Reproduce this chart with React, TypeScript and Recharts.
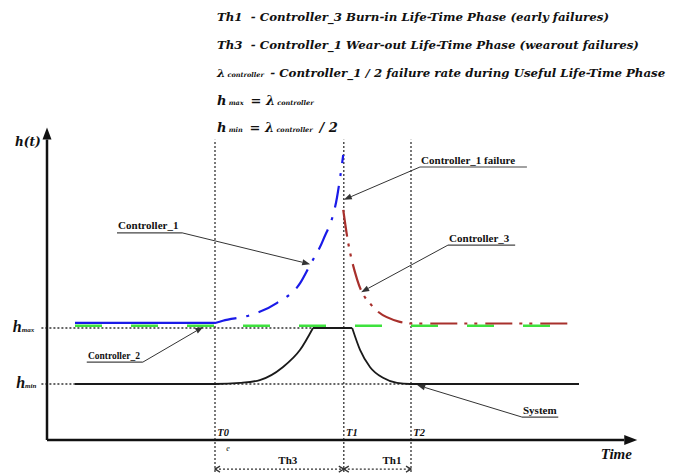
import React from 'react';
import { LineChart, Line, XAxis, YAxis, ReferenceLine, ReferenceDot } from 'recharts';

// phase boundaries on the time axis
const T0 = 3.0;
const T1 = 5.3;
const T2 = 6.5;
const X_END = 10.5;
const Y_END = 5.5;
const H_MAX = 2;
const H_MIN = 1;

const phaseMarks = [
  { name: 'T0', x: T0 },
  { name: 'T1', x: T1 },
  { name: 'T2', x: T2 },
];

// system hazard: flat at h_min, rise to h_max, plateau, fall back
const systemRise = [
  { x: 0.5, y: 1 }, { x: 3.0, y: 1 }, { x: 3.45, y: 1.02 }, { x: 3.8, y: 1.07 },
  { x: 4.21, y: 1.3 }, { x: 4.52, y: 1.61 }, { x: 4.75, y: 2 },
];
const systemTop = [{ x: 4.75, y: 2 }, { x: 5.45, y: 2 }];
const systemFall = [
  { x: 5.45, y: 2 }, { x: 5.59, y: 1.61 }, { x: 5.77, y: 1.3 }, { x: 6.0, y: 1.11 },
  { x: 6.25, y: 1.02 }, { x: 6.48, y: 1 }, { x: 9.5, y: 1 },
];

const controller1Flat = [{ x: 0.5, y: 2.09 }, { x: 3.0, y: 2.09 }];
const controller1Wear = [
  { x: 3.0, y: 2.09 }, { x: 3.14, y: 2.13 }, { x: 3.63, y: 2.23 }, { x: 4.11, y: 2.45 },
  { x: 4.52, y: 2.8 }, { x: 4.7, y: 3.13 }, { x: 4.93, y: 3.57 }, { x: 5.18, y: 4.34 },
  { x: 5.29, y: 5.09 },
];
const controller2Data = [{ x: 0.5, y: 2.04 }, { x: 9.0, y: 2.04 }];
const controller3Data = [
  { x: 5.29, y: 4.11 }, { x: 5.36, y: 3.63 }, { x: 5.54, y: 2.86 }, { x: 5.82, y: 2.38 },
  { x: 6.3, y: 2.11 }, { x: 6.48, y: 2.08 }, { x: 9.4, y: 2.08 },
];

// callouts: label, underline x-range, underline y, arrow tip, which end the leader starts from
const callouts = [
  { label: 'Controller_1', x0: 1.25, x1: 2.41, y: 3.7, tipX: 4.7, tipY: 3.14, fromRight: true, size: 11 },
  { label: 'Controller_1 failure', x0: 6.66, x1: 8.57, y: 4.875, tipX: 5.3, tipY: 4.29, fromRight: false, size: 11 },
  { label: 'Controller_3', x0: 7.16, x1: 8.36, y: 3.48, tipX: 5.61, tipY: 2.64, fromRight: false, size: 11 },
  { label: 'Controller_2', x0: 0.71, x1: 1.71, y: 1.39, tipX: 2.79, tipY: 2.02, fromRight: true, size: 9.5 },
  { label: 'System', x0: 8.48, x1: 9.13, y: 0.41, tipX: 6.61, tipY: 0.98, fromRight: false, size: 11 },
];

const titleLines = [
  { lead: 'Th1', text: '  - Controller_3 Burn-in Life-Time Phase (early failures)' },
  { lead: 'Th3', text: '  - Controller_1 Wear-out Life-Time Phase (wearout failures)' },
];

const serif = '"Liberation Serif", "Times New Roman", serif';
const dejavu = '"DejaVu Serif", serif';

const ArrowLine = (props: any) => {
  const { x1, y1, x2, y2, stroke = '#333', strokeWidth = 1, head = 8, half = 3 } = props;
  const a = Math.atan2(y2 - y1, x2 - x1);
  const bx = x2 - head * Math.cos(a);
  const by = y2 - head * Math.sin(a);
  const px = -Math.sin(a) * half;
  const py = Math.cos(a) * half;
  return (
    <g>
      <line x1={x1} y1={y1} x2={bx} y2={by} stroke={stroke} strokeWidth={strokeWidth} />
      <polygon points={`${x2},${y2} ${bx + px},${by + py} ${bx - px},${by - py}`} fill={stroke} />
    </g>
  );
};

const SpanArrow = (props: any) => {
  const { x1, y1, x2, y2 } = props;
  return (
    <g stroke="#333" strokeWidth={1.3} fill="none">
      <line x1={x1} y1={y1} x2={x2} y2={y2} strokeDasharray="2 2" />
      <polyline points={`${x1 + 5},${y1 - 3} ${x1},${y1} ${x1 + 5},${y1 + 3}`} />
      <polyline points={`${x2 - 5},${y2 - 3} ${x2},${y2} ${x2 - 5},${y2 + 3}`} />
    </g>
  );
};

const textDot = (key: string, x: number, y: number, content: React.ReactNode, style: any, anchor = 'start') => (
  <ReferenceDot
    key={key}
    x={x}
    y={y}
    r={0}
    ifOverflow="visible"
    shape={(p: any) => (
      <text x={p.cx} y={p.cy} textAnchor={anchor} fill="#111" style={style}>
        {content}
      </text>
    )}
  />
);

export default function App() {
  const dotted = { stroke: '#333', strokeWidth: 1.3, strokeDasharray: '2 2' };
  const sub = { fontSize: 6.5 };
  return (
    <div style={{ position: 'absolute', left: 0, top: 0, width: 683, height: 474, background: '#fff' }}>
      {/* legend text block above the chart */}
      <div style={{ position: 'absolute', left: 217, top: 0, fontFamily: dejavu, fontWeight: 'bold', fontStyle: 'italic', fontSize: 11.8, color: '#111', whiteSpace: 'pre' }}>
        {titleLines.map((l, i) => (
          <div key={i} style={{ position: 'absolute', top: 10 + i * 28, left: 0 }}>{l.lead}{l.text}</div>
        ))}
        <div style={{ position: 'absolute', top: 66, left: 0 }}>
          λ<span style={sub}> controller </span> - Controller_1 / 2 failure rate during Useful Life-Time Phase
        </div>
        <div style={{ position: 'absolute', top: 93, left: 0, fontSize: 13 }}>
          h<span style={sub}> max </span> = λ<span style={sub}> controller</span>
        </div>
        <div style={{ position: 'absolute', top: 120, left: 0, fontSize: 13 }}>
          h<span style={sub}> min </span> = λ<span style={sub}> controller </span> / 2
        </div>
      </div>

      <LineChart width={683} height={474} margin={{ top: 132, right: 48, bottom: 34, left: 47 }} style={{ position: 'absolute', left: 0, top: 0 }}>
        <XAxis type="number" dataKey="x" domain={[0, X_END]} hide allowDataOverflow />
        <YAxis type="number" dataKey="y" domain={[0, Y_END]} hide allowDataOverflow />

        {/* dotted guides */}
        {phaseMarks.map((m) => (
          <ReferenceLine key={m.name} segment={[{ x: m.x, y: -0.57 }, { x: m.x, y: 5.36 }]} ifOverflow="visible" {...dotted} />
        ))}
        <ReferenceLine segment={[{ x: -0.1, y: H_MAX }, { x: T1, y: H_MAX }]} ifOverflow="visible" {...dotted} />
        <ReferenceLine segment={[{ x: -0.1, y: H_MIN }, { x: T2, y: H_MIN }]} ifOverflow="visible" {...dotted} />

        {/* axes with arrow heads */}
        <ReferenceLine segment={[{ x: 0, y: 0 }, { x: X_END + 0.04, y: 0 }]} ifOverflow="visible"
          shape={(p: any) => <ArrowLine {...p} stroke="#111" strokeWidth={2.5} head={13} half={5} />} />
        <ReferenceLine segment={[{ x: 0, y: 0 }, { x: 0, y: Y_END + 0.08 }]} ifOverflow="visible"
          shape={(p: any) => <ArrowLine {...p} stroke="#111" strokeWidth={2.5} head={12} half={4.5} />} />

        {/* phase spans */}
        <ReferenceLine segment={[{ x: T0, y: -0.52 }, { x: T1, y: -0.52 }]} ifOverflow="visible" shape={(p: any) => <SpanArrow {...p} />} />
        <ReferenceLine segment={[{ x: T1, y: -0.52 }, { x: T2, y: -0.52 }]} ifOverflow="visible" shape={(p: any) => <SpanArrow {...p} />} />

        <Line data={controller2Data} dataKey="y" type="linear" stroke="#3ee23e" strokeWidth={2.5} strokeDasharray="27 29" dot={false} isAnimationActive={false} />
        <Line data={controller1Flat} dataKey="y" type="linear" stroke="#1a1ae8" strokeWidth={2.2} dot={false} isAnimationActive={false} />
        <Line data={controller1Wear} dataKey="y" type="monotone" stroke="#1a1ae8" strokeWidth={2.2} strokeDasharray="22 10 3 10" dot={false} isAnimationActive={false} />
        <Line data={controller3Data} dataKey="y" type="monotone" stroke="#a8302c" strokeWidth={2.2} strokeDasharray="27 7 3 7 3 8" dot={false} isAnimationActive={false} />
        <Line data={systemRise} dataKey="y" type="monotone" stroke="#1a1a1a" strokeWidth={1.8} dot={false} isAnimationActive={false} />
        <Line data={systemTop} dataKey="y" type="linear" stroke="#1a1a1a" strokeWidth={1.8} dot={false} isAnimationActive={false} />
        <Line data={systemFall} dataKey="y" type="monotone" stroke="#1a1a1a" strokeWidth={1.8} dot={false} isAnimationActive={false} />

        {/* callouts */}
        {callouts.map((c) => (
          <ReferenceLine key={c.label + '-u'} segment={[{ x: c.x0, y: c.y }, { x: c.x1, y: c.y }]} ifOverflow="visible" stroke="#444" strokeWidth={1.2} />
        ))}
        {callouts.map((c) => (
          <ReferenceLine key={c.label + '-a'} segment={[{ x: c.fromRight ? c.x1 : c.x0, y: c.y }, { x: c.tipX, y: c.tipY }]} ifOverflow="visible"
            shape={(p: any) => <ArrowLine {...p} stroke="#333" strokeWidth={1} head={8} half={3} />} />
        ))}
        {callouts.map((c) =>
          textDot(c.label + '-t', c.x0 + 0.02, c.y + 0.06, c.label, { fontFamily: serif, fontWeight: 'bold', fontSize: c.size }),
        )}

        {/* axis and phase labels */}
        {textDot('ht', -0.57, 5.25, 'h(t)', { fontFamily: dejavu, fontWeight: 'bold', fontStyle: 'italic', fontSize: 12 })}
        {textDot('hmax', -0.61, 1.93, <><tspan>h</tspan><tspan fontSize={7}>max</tspan></>, { fontFamily: serif, fontWeight: 'bold', fontStyle: 'italic', fontSize: 16 })}
        {textDot('hmin', -0.55, 0.93, <><tspan>h</tspan><tspan fontSize={7}>min</tspan></>, { fontFamily: serif, fontWeight: 'bold', fontStyle: 'italic', fontSize: 16 })}
        {phaseMarks.map((m) =>
          textDot(m.name + '-l', m.x + 0.04, 0.07, m.name, { fontFamily: serif, fontWeight: 'bold', fontStyle: 'italic', fontSize: 10.5 }),
        )}
        {textDot('e', 3.2, -0.2, 'e', { fontFamily: serif, fontStyle: 'italic', fontSize: 8 })}
        {textDot('time', 9.89, -0.34, 'Time', { fontFamily: serif, fontWeight: 'bold', fontStyle: 'italic', fontSize: 15 })}
        {textDot('th3', 4.3, -0.43, 'Th3', { fontFamily: serif, fontWeight: 'bold', fontSize: 11 }, 'middle')}
        {textDot('th1', 6.16, -0.43, 'Th1', { fontFamily: serif, fontWeight: 'bold', fontSize: 11 }, 'middle')}
      </LineChart>
    </div>
  );
}
